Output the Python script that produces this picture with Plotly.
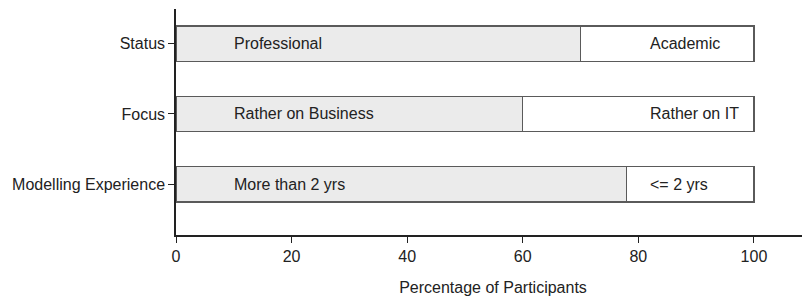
import plotly.graph_objects as go

categories = ["Modelling Experience", "Focus", "Status"]
first_values = [78, 60, 70]
second_values = [22, 40, 30]
first_labels = ["More than 2 yrs", "Rather on Business", "Professional"]
second_labels = ["<= 2 yrs", "Rather on IT", "Academic"]
x_ticks = [0, 20, 40, 60, 80, 100]

FONT = "Liberation Sans, Arial, sans-serif"
TXT = "#222222"
FS = 16
LABEL_X1 = 9.7
LABEL_X2 = 81.7

fig = go.Figure()
fig.add_trace(go.Bar(
    y=categories, x=first_values, orientation="h", width=0.5,
    marker=dict(color="#ebebeb", line=dict(color="#5a5a5a", width=1.2)),
    showlegend=False, hoverinfo="skip"))
fig.add_trace(go.Bar(
    y=categories, x=second_values, orientation="h", width=0.5,
    marker=dict(color="#ffffff", line=dict(color="#5a5a5a", width=1.2)),
    showlegend=False, hoverinfo="skip"))

annotations = []
for c, l1, l2 in zip(categories, first_labels, second_labels):
    annotations.append(dict(x=LABEL_X1, y=c, text=l1, xanchor="left", yanchor="middle",
                            showarrow=False, font=dict(family=FONT, size=FS, color=TXT)))
    annotations.append(dict(x=LABEL_X2, y=c, text=l2, xanchor="left", yanchor="middle",
                            showarrow=False, font=dict(family=FONT, size=FS, color=TXT)))

# page body has an 8px default margin; size the figure to compensate
fig.update_layout(
    barmode="stack",
    width=802, height=290,
    margin=dict(l=168, r=0, t=1, b=63),
    paper_bgcolor="white", plot_bgcolor="white",
    font=dict(family=FONT, size=FS, color=TXT),
    annotations=annotations,
    xaxis=dict(range=[0, 109.7], tickvals=x_ticks, showgrid=False, zeroline=False,
               showline=True, linecolor="#222222", linewidth=1.5,
               ticks="outside", ticklen=6, tickcolor="#222222", automargin=False,
               title=dict(text="Percentage of Participants", standoff=18,
                          font=dict(size=FS)),
               tickfont=dict(size=FS)),
    yaxis=dict(range=[-0.72, 2.49], showgrid=False, zeroline=False,
               showline=True, linecolor="#222222", linewidth=1.5,
               ticks="outside", ticklen=6, tickcolor="#222222", automargin=False,
               tickfont=dict(size=FS)),
)

fig.write_html("out.html")
